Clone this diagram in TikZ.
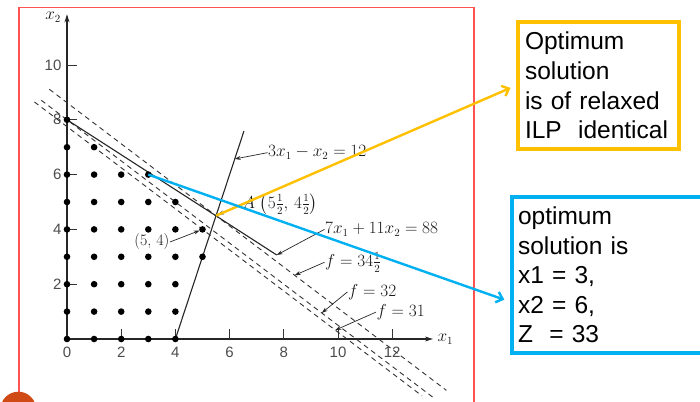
\documentclass[tikz,border=0pt]{standalone}
\usepackage{amsmath}
\usepackage{fontspec}
\newfontfamily\boxfont{Liberation Sans}
\usetikzlibrary{calc,arrows.meta}

\definecolor{ilpyellow}{HTML}{FFC000}
\definecolor{ilpblue}{HTML}{00B0F0}
\definecolor{framered}{HTML}{FF5252}
\definecolor{slidedot}{HTML}{D04A15}

\begin{document}
\begin{tikzpicture}[
  x=1pt,y=1pt,
  >=Stealth,
  intdot/.style={fill=black},
  axisline/.style={line width=1.1pt, draw=black!85, -{Stealth[length=8pt,width=5pt]}},
  constraint/.style={line width=1.1pt, draw=black!85},
  isoline/.style={line width=0.9pt, draw=black!80, dash pattern=on 5pt off 4pt},
  axistick/.style={line width=0.9pt, draw=black!80},
  ticklabel/.style={font=\boxfont\fontsize{15}{17}\selectfont, text=black!70, inner sep=0pt},
  eqlabel/.style={font=\fontsize{16}{19}\selectfont, text=black!90, inner sep=0.5pt},
  pointer/.style={-{Stealth[length=6pt,width=4pt]}, line width=0.7pt, draw=black!85},
  callout/.style={line width=4pt, align=left, inner ysep=0pt, font=\boxfont\fontsize{24.5}{29.6}\selectfont, text=black},
  calloutarrow/.style={-{Straight Barb[length=6pt,width=11pt]}, line width=2.4pt, shorten >=6pt}
]
\useasboundingbox (0,0) rectangle (700,401);

% Slide frame and corner mark
\draw[framered, line width=1.4pt] (19,-10) -- (19,393.7) -- (474,393.7) -- (474,-10);
\fill[slidedot] (18.3,-8.6) circle (17.9);

\begin{scope}[shift={(67,62)}, x=27.1pt, y=27.4pt]

% Axes
\coordinate (O) at (0,0);
\coordinate (xend) at (13.5,0);
\coordinate (yend) at (0,11.85);
\draw[axisline] (O) -- (xend);
\draw[axisline] (O) -- (yend);
\node[eqlabel, anchor=west] (xlabel) at ($(xend)+(0.15,0)$) {$x_1$};
\node[eqlabel, anchor=east] (ylabel) at ($(yend)+(-0.2,-0.1)$) {$x_2$};

% Ticks and tick labels
\draw[axistick] (0,2) -- (0.37,2);
\draw[axistick] (0,4) -- (0.37,4);
\draw[axistick] (0,6) -- (0.37,6);
\draw[axistick] (0,8) -- (0.37,8);
\draw[axistick] (0,10) -- (0.37,10);
\draw[axistick] (2,0) -- (2,0.35);
\draw[axistick] (4,0) -- (4,0.35);
\draw[axistick] (6,0) -- (6,0.35);
\draw[axistick] (8,0) -- (8,0.35);
\draw[axistick] (10,0) -- (10,0.35);
\draw[axistick] (12,0) -- (12,0.35);
\node[ticklabel, anchor=east] (y2) at (-0.2,2) {2};
\node[ticklabel, anchor=east] (y4) at (-0.2,4) {4};
\node[ticklabel, anchor=east] (y6) at (-0.2,6) {6};
\node[ticklabel, anchor=east] (y8) at (-0.2,8) {8};
\node[ticklabel, anchor=east] (y10) at (-0.2,10) {10};
\node[ticklabel, anchor=north] (x0) at (0,-0.28) {0};
\node[ticklabel, anchor=north] (x2) at (2,-0.28) {2};
\node[ticklabel, anchor=north] (x4) at (4,-0.28) {4};
\node[ticklabel, anchor=north] (x6) at (6,-0.28) {6};
\node[ticklabel, anchor=north] (x8) at (8,-0.28) {8};
\node[ticklabel, anchor=north] (x10) at (10,-0.28) {10};
\node[ticklabel, anchor=north] (x12) at (12,-0.28) {12};

% Objective lines f = 3x1 + 4x2
\draw[isoline] (-0.65,9.1125) -- (14.0,-1.875);
\draw[isoline] (-0.95,8.7125) -- (13.6,-2.2);
\draw[isoline] (-1.2,8.65) -- (13.1,-2.075);

% Constraints
\coordinate (c1a) at (4,0);
\coordinate (c1b) at (6.53,7.59);
\coordinate (c2a) at (0,8);
\coordinate (c2b) at (7.74,3.0655);
\coordinate (A) at (5.5,4.5);
\draw[constraint] (c1a) -- (c1b);
\draw[constraint] (c2a) -- (c2b);

% Integer points of the feasible region
\fill[intdot] (0,0) circle (3.3pt) (1,0) circle (3.3pt) (2,0) circle (3.3pt) (3,0) circle (3.3pt) (4,0) circle (3.3pt);
\fill[intdot] (0,1) circle (3.3pt) (1,1) circle (3.3pt) (2,1) circle (3.3pt) (3,1) circle (3.3pt) (4,1) circle (3.3pt);
\fill[intdot] (0,2) circle (3.3pt) (1,2) circle (3.3pt) (2,2) circle (3.3pt) (3,2) circle (3.3pt) (4,2) circle (3.3pt);
\fill[intdot] (0,3) circle (3.3pt) (1,3) circle (3.3pt) (2,3) circle (3.3pt) (3,3) circle (3.3pt) (4,3) circle (3.3pt) (5,3) circle (3.3pt);
\fill[intdot] (0,4) circle (3.3pt) (1,4) circle (3.3pt) (2,4) circle (3.3pt) (3,4) circle (3.3pt) (4,4) circle (3.3pt) (5,4) circle (3.3pt);
\fill[intdot] (0,5) circle (3.3pt) (1,5) circle (3.3pt) (2,5) circle (3.3pt) (3,5) circle (3.3pt) (4,5) circle (3.3pt);
\fill[intdot] (0,6) circle (3.3pt) (1,6) circle (3.3pt) (2,6) circle (3.3pt) (3,6) circle (3.3pt);
\fill[intdot] (0,7) circle (3.3pt) (1,7) circle (3.3pt);
\fill[intdot] (0,8) circle (3.3pt);
\coordinate (d54) at (5,4);
\coordinate (d36) at (3,6);

% Pointer targets on the lines
\coordinate (p1) at (6.19,6.57);
\coordinate (q1) at (8.4,2.325);
\coordinate (q2) at (9.4,0.95);
\coordinate (q3) at (9.9,0.325);

% Line labels
\node[eqlabel, anchor=west] (lblc1) at (7.4,6.8) {$3x_1 - x_2 = 12$};
\node[eqlabel, anchor=west] (lblA) at (6.45,4.92) {$A\;\bigl(5\frac{1}{2},\,4\frac{1}{2}\bigr)$};
\node[eqlabel, anchor=west] (lblc2) at (9.5,4.0) {$7x_1 + 11x_2 = 88$};
\node[eqlabel, anchor=west] (lblf1) at (9.5,2.8) {$f = 34\frac{1}{2}$};
\node[eqlabel, anchor=west] (lblf2) at (10.35,1.72) {$f = 32$};
\node[eqlabel, anchor=west] (lblf3) at (11.4,0.98) {$f = 31$};
\node[eqlabel, anchor=east] (lbl54) at (3.8,3.54) {(5, 4)};

\draw[pointer] (lblc1.west) -- (p1);
\draw[pointer, shorten >=2pt] (lblA.west) -- (A);
\draw[pointer] (lblc2.west) -- (c2b);
\draw[pointer] (lblf1.west) -- (q1);
\draw[pointer] (lblf2.west) -- (q2);
\draw[pointer] (lblf3.west) -- (q3);
\draw[pointer, shorten >=3pt] (lbl54.east) -- (d54);

\end{scope}

% Callouts
\node[callout, draw=ilpyellow, text width=147pt, inner xsep=7pt, minimum height=127pt] (orbox) at (598.5,315.5)
  {Optimum\\solution\\is of relaxed\\ILP~ identical};
\node[callout, draw=ilpblue, text width=178pt, inner xsep=6pt, minimum height=156pt] (blbox) at (607,126)
  {optimum\\solution is\\x1 = 3,\\x2 = 6,\\Z~ = 33};

\draw[calloutarrow, draw=ilpyellow] (A) -- (orbox.west);
\draw[calloutarrow, draw=ilpblue] (d36) -- ([yshift=-26.7pt]blbox.west);

\end{tikzpicture}
\end{document}
